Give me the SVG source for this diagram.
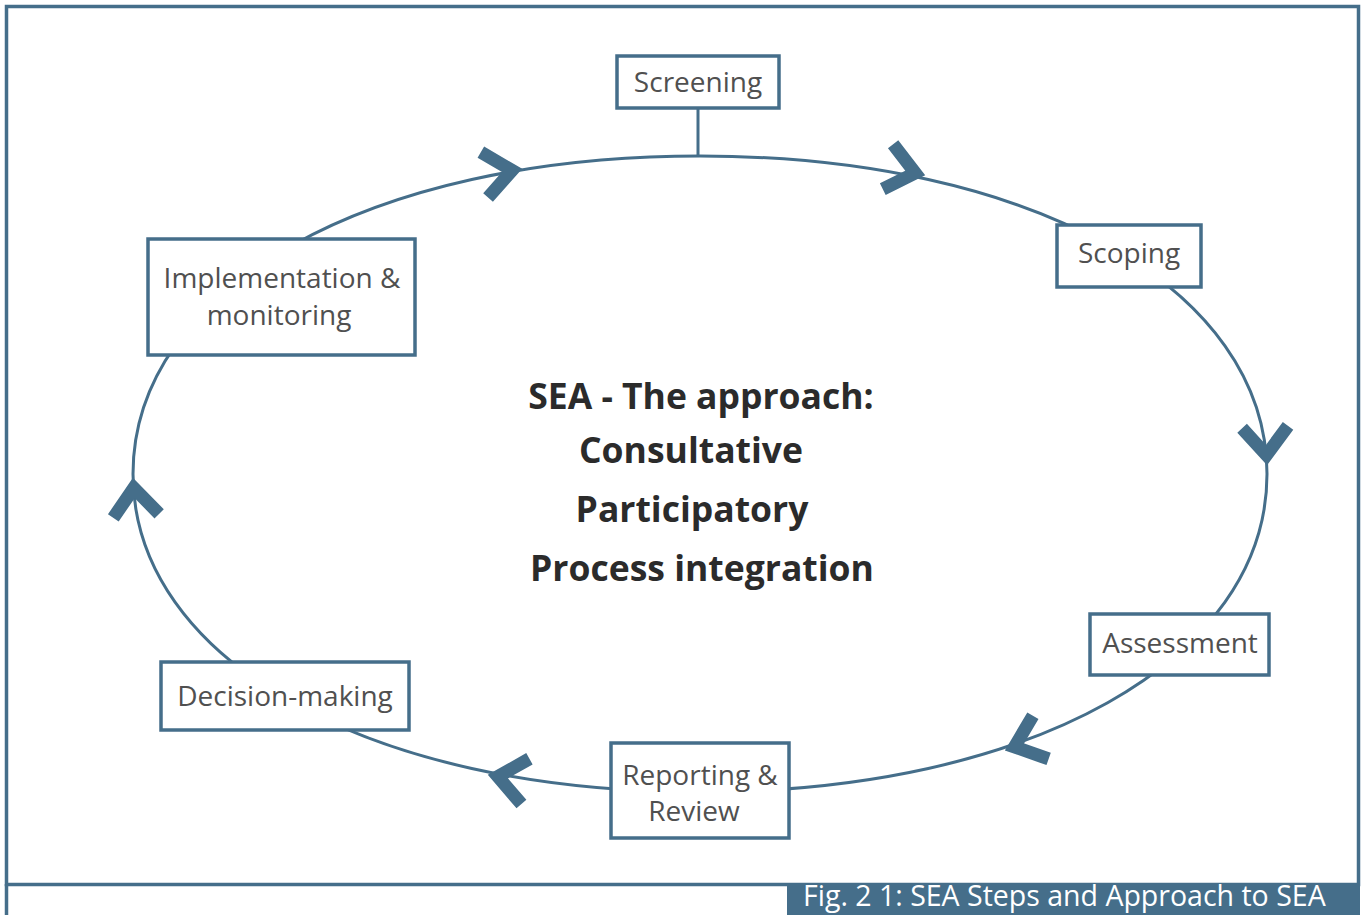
<svg xmlns="http://www.w3.org/2000/svg" width="1365" height="915" viewBox="0 0 1365 915">
<defs>
<style>
.ln{fill:none;stroke:#456e8a;stroke-width:3}
.box{fill:#fff;stroke:#456e8a;stroke-width:3.5}
.lbl{font-family:"Open Sans","Liberation Sans",sans-serif;font-size:28px;fill:#505050;text-anchor:middle}
.ctr{font-family:"Open Sans","Liberation Sans",sans-serif;font-size:35.5px;font-weight:bold;fill:#2b2b2b;text-anchor:middle}
.cap{font-family:"Open Sans","Liberation Sans",sans-serif;font-size:28.5px;fill:#fff}
</style>
<path id="chev" d="M-37,-23 L-9,0 L-37,23" fill="none" stroke="#456e8a" stroke-width="13" stroke-linejoin="miter" stroke-miterlimit="10"/>
</defs>
<rect width="1365" height="915" fill="#fff"/>
<g id="frame">
<rect x="6.5" y="6.5" width="1352" height="878" fill="none" stroke="#456e8a" stroke-width="3.5"/>
<line x1="6.5" y1="884" x2="6.5" y2="915" stroke="#456e8a" stroke-width="3.5"/>
<rect x="787" y="884" width="573" height="31" fill="#456e8a"/>
<text class="cap" x="803" y="906">Fig. 2 1: SEA Steps and Approach to SEA</text>
</g>
<g id="connectors">
<path class="ln" d="M700,156 C1031,156 1267,288 1267,474 C1267,660 1031,792 700,792 C369,792 133,660 133,474 C133,288 369,156 700,156 Z"/>
<line class="ln" x1="698" y1="108" x2="698" y2="156"/>
<use href="#chev" transform="translate(521,169) rotate(-9)"/>
<use href="#chev" transform="translate(924,175) rotate(13)"/>
<use href="#chev" transform="translate(1267,464) rotate(87)"/>
<use href="#chev" transform="translate(1006,750) rotate(160)"/>
<use href="#chev" transform="translate(489,775) rotate(190)"/>
<use href="#chev" transform="translate(133,479) rotate(-95)"/>
</g>
<g id="screening">
<rect class="box" x="617" y="56" width="162" height="52"/>
<text class="lbl" x="698" y="92">Screening</text>
</g>
<g id="scoping">
<rect class="box" x="1057" y="225" width="144" height="62"/>
<text class="lbl" x="1129" y="263">Scoping</text>
</g>
<g id="assessment">
<rect class="box" x="1090" y="614" width="179" height="61"/>
<text class="lbl" x="1180" y="653">Assessment</text>
</g>
<g id="reporting">
<rect class="box" x="611" y="743" width="178" height="95"/>
<text class="lbl" x="700" y="785">Reporting &amp;</text>
<text class="lbl" x="694" y="821">Review</text>
</g>
<g id="decision">
<rect class="box" x="161" y="662" width="248" height="68"/>
<text class="lbl" x="285" y="706">Decision-making</text>
</g>
<g id="implementation">
<rect class="box" x="148" y="239" width="267" height="116"/>
<text class="lbl" x="282" y="288">Implementation &amp;</text>
<text class="lbl" x="279" y="325">monitoring</text>
</g>
<g id="center">
<text class="ctr" x="701" y="409">SEA - The approach:</text>
<text class="ctr" x="691" y="463">Consultative</text>
<text class="ctr" x="692" y="522">Participatory</text>
<text class="ctr" x="702" y="581">Process integration</text>
</g>
</svg>
